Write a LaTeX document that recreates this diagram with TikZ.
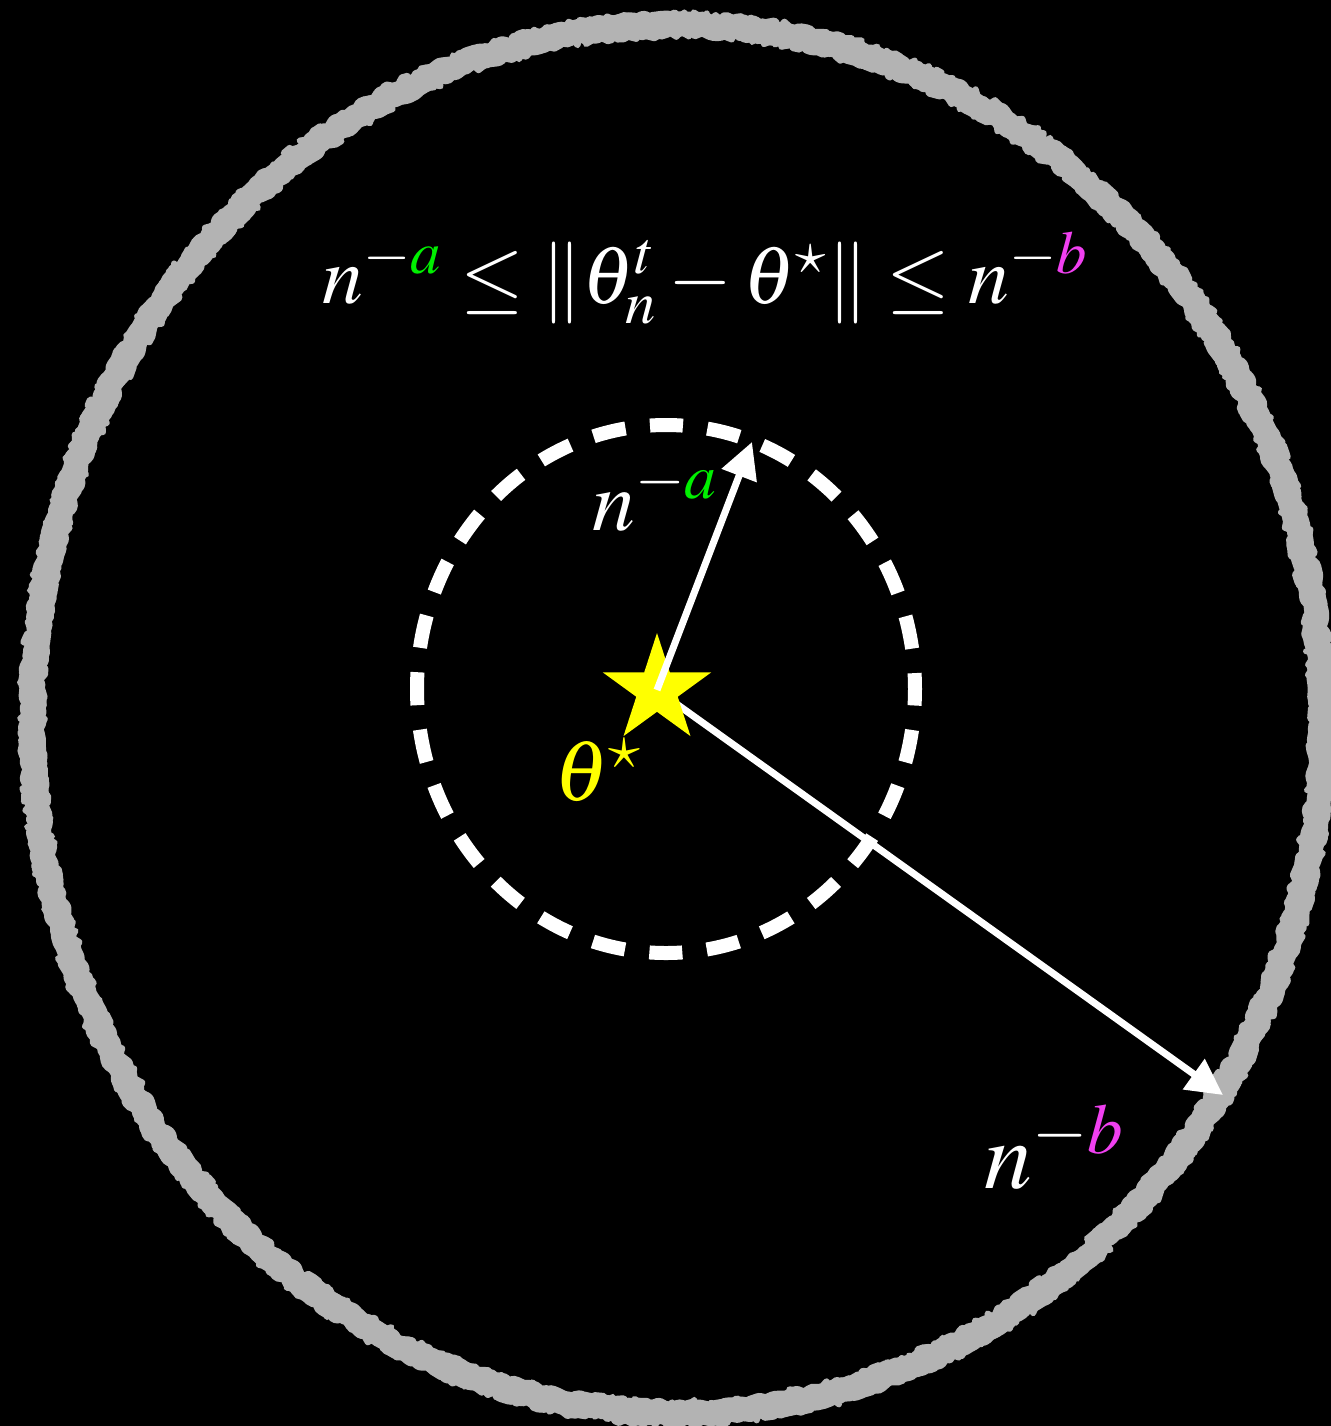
\documentclass[tikz,border=0pt]{standalone}
\usepackage{mathptmx}
\usetikzlibrary{shapes.geometric,arrows.meta,decorations.pathmorphing}
\definecolor{ringgray}{RGB}{179,179,179}
\definecolor{agreen}{RGB}{0,240,0}
\definecolor{bmag}{RGB}{240,64,240}
\definecolor{staryellow}{RGB}{255,255,0}
\begin{document}
\begin{tikzpicture}[x=0.5pt,y=-0.5pt,
  lbl/.style={text=white,inner sep=0pt,anchor=base,font=\fontsize{43}{50}\selectfont},
  radarrow/.style={white,line width=3.5pt,-{Triangle[length=18pt,width=18pt]}},
  ring/.style={ringgray,line width=12pt,line join=round,decorate,decoration={random steps,segment length=2.5pt,amplitude=1.5pt}},
  ringfine/.style={ringgray,line width=3pt,line join=round,decorate,decoration={random steps,segment length=2pt,amplitude=2pt}},
  dashring/.style={white,line width=7pt,dash pattern=on 16.5pt off 12.3pt,dash phase=8.25pt}]
\fill[black] (0,0) rectangle (1331,1426);
\useasboundingbox (0,0) rectangle (1331,1426);
\draw[ring] (677,719) ellipse [x radius=645, y radius=694];
\draw[ringfine] (677,719) ellipse [x radius=654, y radius=703];
\draw[ringfine] (677,719) ellipse [x radius=636, y radius=685];
\draw[dashring] (666,689) ellipse [x radius=249, y radius=264];
\coordinate (ctr) at (657,690);
\coordinate (tipA) at (752,442);
\coordinate (tipB) at (1223,1095);
\draw[radarrow] (ctr) -- (tipB);
\node[star,star points=5,star point ratio=2.618,fill=staryellow,minimum size=57pt,inner sep=0pt] (star) at (ctr) {};
\draw[radarrow] (star.center) -- (tipA);
\node[lbl,font=\fontsize{41}{48}\selectfont] (formula) at (705,303) {$n^{-\textcolor{agreen}{a}} \le \|\theta_n^t - \theta^\star\| \le n^{-\textcolor{bmag}{b}}$};
\node[lbl] (la) at (655,530) {$n^{-\textcolor{agreen}{a}}$};
\node[lbl,text=staryellow] (lt) at (598,800) {$\theta^\star$};
\node[lbl,font=\fontsize{48}{56}\selectfont] (lb) at (1054,1188) {$n^{-\textcolor{bmag}{b}}$};
\end{tikzpicture}
\end{document}
